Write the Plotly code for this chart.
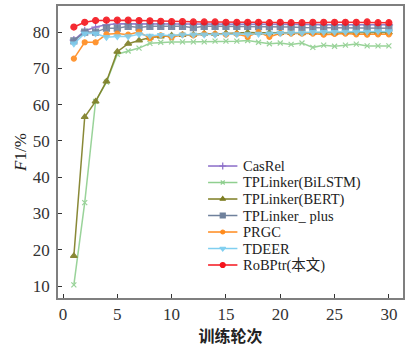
import plotly.graph_objects as go

epochs = list(range(1, 31))
casrel = [77.8, 80.3, 81.4, 82.0, 82.3, 82.3, 82.3, 82.3, 82.3, 82.3, 82.2, 82.2, 82.2, 82.2, 82.2,
          82.2, 82.2, 82.2, 82.1, 82.1, 82.1, 82.1, 82.1, 82.0, 82.0, 82.0, 82.0, 82.0, 82.0, 82.0]
tpl_bilstm = [10.3, 33.0, 60.9, 66.2, 73.9, 74.8, 75.6, 76.9, 77.2, 77.3, 77.3, 77.3, 77.3, 77.5, 77.5,
              77.5, 77.7, 77.2, 76.8, 77.0, 76.6, 77.0, 75.8, 76.4, 76.1, 76.4, 76.7, 76.2, 76.2, 76.2]
tpl_bert = [18.3, 56.6, 60.9, 66.4, 74.6, 76.8, 77.7, 78.5, 78.8, 79.1, 79.2, 79.3, 79.6, 79.5, 79.7,
            79.7, 79.9, 79.8, 79.8, 79.8, 79.8, 79.7, 79.8, 79.8, 79.7, 79.9, 79.8, 79.8, 79.9, 79.9]
tpl_plus = [77.6, 80.0, 80.0, 81.1, 81.1, 81.6, 81.3, 81.6, 81.6, 81.6, 81.6, 81.2, 81.6, 81.6, 81.6,
            81.6, 81.6, 81.5, 81.5, 81.5, 81.4, 81.3, 81.3, 81.2, 81.3, 81.3, 81.1, 81.2, 81.1, 81.1]
prgc = [72.7, 77.2, 77.2, 79.4, 79.6, 79.3, 80.1, 78.3, 79.1, 78.6, 79.3, 79.1, 79.5, 79.5, 79.3,
        79.5, 78.7, 80.0, 78.7, 79.7, 79.6, 79.6, 79.6, 79.3, 79.5, 79.6, 79.4, 79.3, 79.4, 79.4]
tdeer = [76.8, 79.6, 79.6, 78.6, 78.8, 78.8, 79.4, 79.0, 79.2, 79.0, 79.3, 79.3, 79.3, 79.3, 79.4,
         79.4, 79.4, 79.5, 79.6, 79.7, 79.8, 79.8, 80.0, 80.0, 80.0, 80.1, 80.1, 80.1, 80.2, 80.2]
robptr = [81.4, 82.7, 83.2, 83.3, 83.3, 83.3, 83.2, 83.1, 83.0, 82.9, 82.9, 82.8, 82.8, 82.8, 82.7,
          82.7, 82.7, 82.7, 82.6, 82.7, 82.6, 82.6, 82.7, 82.7, 82.7, 82.7, 82.7, 82.8, 82.6, 82.6]

names = ["CasRel", "TPLinker(BiLSTM)", "TPLinker(BERT)", "TPLinker_ plus", "PRGC", "TDEER", "RoBPtr(本文)"]
series = [casrel, tpl_bilstm, tpl_bert, tpl_plus, prgc, tdeer, robptr]
colors = ["#8a6cc8", "#8fcf8f", "#7d7d22", "#6f819c", "#ff8a1c", "#80cff0", "#f5141c"]
symbols = ["cross-thin", "x-thin", "triangle-up", "square", "circle", "triangle-down", "circle"]
msizes = [6, 5, 6, 6, 5, 6, 6]

fig = go.Figure()
for n, s, c, sym, ms in zip(names, series, colors, symbols, msizes):
    fig.add_trace(go.Scatter(
        x=epochs, y=s, mode="lines+markers", name=n,
        line=dict(color=c, width=1.5),
        marker=dict(symbol=sym, size=ms, color=c, line=dict(color=c, width=1.2)),
        showlegend=False, opacity=0.9,
    ))

# manual compact legend on an overlay axis (0..1 coordinates over the plot area)
leg_x0, leg_x1, leg_tx = 0.435, 0.52, 0.532
leg_top, leg_step = 0.452, 0.0565
for i, (n, c, sym, ms) in enumerate(zip(names, colors, symbols, msizes)):
    yy = leg_top - i * leg_step
    fig.add_trace(go.Scatter(
        x=[leg_x0, (leg_x0 + leg_x1) / 2, leg_x1], y=[yy, yy, yy],
        mode="lines", line=dict(color=c, width=1.5), xaxis="x2", yaxis="y2",
        showlegend=False, hoverinfo="skip"))
    fig.add_trace(go.Scatter(
        x=[(leg_x0 + leg_x1) / 2], y=[yy], mode="markers",
        marker=dict(symbol=sym, size=ms - 1, color=c, line=dict(color=c, width=1.2)),
        xaxis="x2", yaxis="y2", showlegend=False, hoverinfo="skip"))
    fig.add_annotation(x=leg_tx, y=yy, xref="x2", yref="y2", text=n, showarrow=False,
                       xanchor="left", yanchor="middle", borderpad=0,
                       font=dict(family="Liberation Serif, Noto Sans CJK SC", size=14.5, color="#222"))

axis_common = dict(showline=True, linecolor="#7f7f7f", linewidth=1.5, mirror=True,
                   ticks="inside", ticklen=4, tickwidth=1.2, tickcolor="#333",
                   showgrid=False, zeroline=False, automargin=False,
                   tickfont=dict(family="Liberation Serif", size=17, color="#333"))

fig.update_layout(
    width=409, height=347,
    margin=dict(l=58, r=6, t=6, b=49),
    paper_bgcolor="white", plot_bgcolor="white",
    xaxis=dict(range=[-0.46, 31.3], tickvals=[0, 5, 10, 15, 20, 25, 30],
               title=dict(text="<b>训练轮次</b>", standoff=8,
                          font=dict(family="Noto Sans CJK SC", size=16, color="#222")),
               **axis_common),
    yaxis=dict(range=[6.7, 87.2], tickvals=[10, 20, 30, 40, 50, 60, 70, 80],
               ticklabelstandoff=3,
               title=dict(text="<i>F</i>1/%", standoff=2,
                          font=dict(family="Liberation Serif", size=17, color="#222")),
               **axis_common),
    xaxis2=dict(range=[0, 1], overlaying="x", visible=False, fixedrange=True),
    yaxis2=dict(range=[0, 1], overlaying="y", visible=False, fixedrange=True),
    showlegend=False,
)

fig.write_html("out.html")
